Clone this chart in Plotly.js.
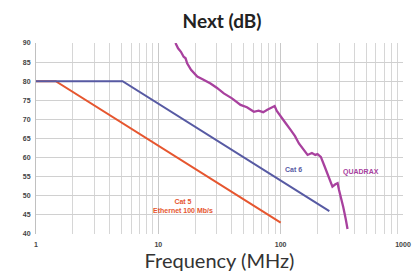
<!DOCTYPE html>
<html>
<head>
<meta charset="utf-8">
<script src="https://cdn.plot.ly/plotly-3.0.1.min.js"></script>
<style>html,body{margin:0;padding:0;background:#fff;}#chart{width:419px;height:280px;}</style>
</head>
<body>
<div id="chart"></div>
<script>
// Data
const cat5Freq = [1, 1.45, 100];
const cat5Db = [80, 80, 43];
const cat6Freq = [1, 5.1, 250];
const cat6Db = [80, 80, 46];
const quadraxFreq = [13.8, 14.5, 15.3, 16.1, 16.7, 17.2, 18.5, 20.8, 23, 26.7, 30, 34.3, 40, 47, 53, 60.4, 66, 72, 77.8, 84, 89.3, 93, 100, 110, 121, 131, 141, 152, 166, 180, 192, 200, 213, 228, 241, 255, 265, 280, 292, 300, 310, 325, 340, 352];
const quadraxDb = [90, 88.6, 87.7, 86.4, 86.0, 84.7, 83.0, 81.2, 80.5, 79.4, 78.3, 76.8, 75.5, 73.8, 73.2, 72.0, 72.3, 71.9, 72.5, 73.0, 73.5, 72.2, 70.7, 69.0, 67.2, 65.6, 63.7, 62.3, 60.7, 61.2, 60.7, 60.9, 60.2, 57.8, 55.9, 53.5, 52.4, 53.0, 53.3, 51.5, 49.8, 47.0, 44.0, 41.3];
const yTicks = [40, 45, 50, 55, 60, 65, 70, 75, 80, 85, 90];
const xTicks = [1, 10, 100, 1000];
const xTickText = ['1', '10', '100', '1000'];
const xMinor = [2,3,4,5,6,7,8,9,20,30,40,50,60,70,80,90,200,300,400,500,600,700,800,900];
const labelText = ['Cat 6', 'QUADRAX', 'Cat 5<br>Ethernet 100 Mb/s'];
const labelFreq = [128, 455, 16];
const labelDb = [57, 56.2, 47.3];

const cBlue = '#575aa3', cRed = '#e6562f', cMag = '#a8419e';

const traces = [
  {x: cat5Freq, y: cat5Db, mode: 'lines', line: {color: cRed, width: 2}},
  {x: cat6Freq, y: cat6Db, mode: 'lines', line: {color: cBlue, width: 2}},
  {x: quadraxFreq, y: quadraxDb, mode: 'lines', line: {color: cMag, width: 2.3}}
];
const colors = [cBlue, cMag, cRed];
const annotations = labelText.map((t, i) => ({
  x: Math.log10(labelFreq[i]), y: labelDb[i], text: t, showarrow: false,
  font: {family: 'Liberation Sans, Arial', size: 7, color: colors[i], weight: 'bold'}
}));

const layout = {
  width: 419, height: 280,
  margin: {l: 36, r: 16, t: 43, b: 46},
  paper_bgcolor: '#fff', plot_bgcolor: '#fff',
  showlegend: false,
  title: {text: '<b>Next (dB)</b>', xref: 'container', x: 0.53, xanchor: 'center', yref: 'container', y: 0.925, yanchor: 'middle',
    font: {family: 'Lato, sans-serif', size: 19, color: '#222'}},
  xaxis: {type: 'log', range: [0, 3], tickvals: xTicks, ticktext: xTickText,
    showgrid: true, gridcolor: '#c8c8c8', gridwidth: 1.2,
    minor: {tickvals: xMinor, showgrid: true, gridcolor: '#d6d6d6', gridwidth: 1, ticklen: 0},
    zeroline: false, showline: false, ticks: '', ticklabelstandoff: 5,
    tickfont: {family: 'Liberation Sans, Arial', size: 7, color: '#444', weight: 'bold'},
    title: {text: 'Frequency (MHz)', standoff: 4, font: {family: 'Lato, sans-serif', size: 20, color: '#333'}}},
  yaxis: {range: [40, 90], tickvals: yTicks, showgrid: true, gridcolor: '#d0d0d0', gridwidth: 1,
    zeroline: false, showline: true, linecolor: '#c0c0c0', linewidth: 1, ticks: '', ticklabelstandoff: 3,
    tickfont: {family: 'Liberation Sans, Arial', size: 7, color: '#444', weight: 'bold'}},
  annotations: annotations
};
Plotly.newPlot('chart', traces, layout, {displayModeBar: false, staticPlot: true});
</script>
</body>
</html>
